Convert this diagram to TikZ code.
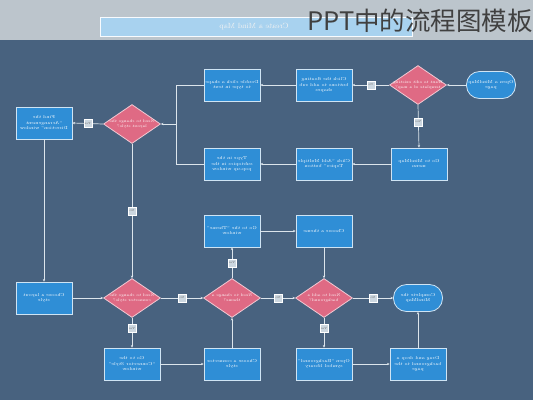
\documentclass[tikz,border=0pt]{standalone}
\usepackage{graphicx}
\usepackage{fontspec}
\newfontfamily\cjk{Noto Sans CJK SC}
\usetikzlibrary{shapes.geometric,arrows.meta}
\definecolor{bgmain}{HTML}{48627F}
\definecolor{bgtop}{HTML}{BCC5CC}
\definecolor{titleblue}{HTML}{A8D2EF}
\definecolor{boxblue}{HTML}{2F8ED6}
\definecolor{boxedge}{HTML}{CFE4F4}
\definecolor{dpink}{HTML}{DF6A84}
\definecolor{dedge}{HTML}{F2C9D3}
\definecolor{linec}{HTML}{DCE5EC}
\definecolor{lblfill}{HTML}{CCD7E0}
\newcommand{\mt}[1]{\reflectbox{\begin{tabular}{@{}c@{}}#1\end{tabular}}}
\tikzset{
  procbox/.style={rectangle, fill=boxblue, draw=boxedge, line width=0.8pt,
    minimum width=56pt, minimum height=32pt, inner sep=0pt, text=white,
    font=\fontsize{4.3}{5.6}\selectfont},
  decbox/.style={diamond, aspect=1.5, fill=dpink, draw=dedge, line width=0.8pt,
    minimum width=57pt, minimum height=39pt, inner xsep=-10pt, inner ysep=-4pt, text=white,
    font=\fontsize{3.9}{5}\selectfont},
  termbox/.style={rectangle, rounded corners=13pt, fill=boxblue, draw=boxedge, line width=0.8pt,
    minimum width=49pt, minimum height=27pt, inner sep=0pt, text=white,
    font=\fontsize{4.3}{5.6}\selectfont},
  lbl/.style={rectangle, fill=lblfill, draw=white, line width=0.5pt,
    minimum width=8pt, minimum height=8pt, inner sep=0pt, text=black!60,
    font=\fontsize{3}{3.5}\selectfont},
  conn/.style={draw=linec, line width=0.7pt},
  flow/.style={conn, -{Stealth[length=2.6pt,width=2.4pt]}}
}
\begin{document}
\begin{tikzpicture}[x=1pt,y=-1pt]
\useasboundingbox (0,0) rectangle (533,400);
\fill[bgmain] (0,0) rectangle (533,400);
\fill[bgtop] (0,0) rectangle (533,40);
% title bar
\node[rectangle, fill=titleblue, draw=white!92!titleblue, line width=1pt,
  minimum width=312pt, minimum height=19pt, inner sep=0pt] (bar) at (256,26.5) {};
\node[text=white!90!gray, font=\fontsize{7.5}{8}\selectfont] (bartext) at (254,27) {\mt{Create a Mind Map}};
\node[anchor=east, inner sep=0pt, text=black!75, font=\cjk\fontsize{25.5}{28}\selectfont] (cn) at (533,20.5) {PPT中的流程图模板};

% top row
\node[termbox] (start) at (491,85) {\mt{Open a MindMap\\page}};
\node[decbox] (d1) at (418,85) {\mt{Want to edit existing\\template of a map?}};
\node[procbox] (b1) at (324,85) {\mt{Click the floating\\buttons to add sub\\shapes}};
\node[procbox] (b2) at (232,85) {\mt{Double click a shape\\to type in text}};
% middle row
\node[procbox] (b3) at (419,164) {\mt{Go to MindMap\\menu}};
\node[procbox] (b4) at (324,164) {\mt{Click ``Add Multiple\\Topics'' button}};
\node[procbox] (b5) at (232,164) {\mt{Type in the\\subtopics in the\\pop-up window}};
% left
\node[decbox] (dl) at (132,124) {\mt{Need to change the\\layout style?}};
\node[procbox] (fa) at (44,123) {\mt{Find the\\``Arrangement\\Direction'' window}};
\coordinate (jn) at (176,124);
% bottom row
\node[procbox] (cl) at (44,298) {\mt{Choose a layout\\style}};
\node[decbox] (d2) at (132,298) {\mt{Need to change the\\connector style?}};
\node[decbox] (d3) at (232,298) {\mt{Need to change a\\theme?}};
\node[decbox] (d4) at (324,298) {\mt{Need to add a\\background?}};
\node[termbox] (done) at (418,298) {\mt{Complete the\\MindMap}};
\node[procbox] (th) at (232,231) {\mt{Go to the ``Theme''\\window}};
\node[procbox] (ct) at (324,231) {\mt{Choose a theme}};
\node[procbox] (cw) at (132,364) {\mt{Go to the\\``Connector Style''\\window}};
\node[procbox] (cc) at (232,364) {\mt{Choose a connector\\style}};
\node[procbox] (ob) at (324,364) {\mt{Open ``Background''\\symbol library}};
\node[procbox] (dd) at (418,364) {\mt{Drag and drop a\\background to the\\page}};

% connectors
\draw[flow] (start.west) -- (d1.east);
\draw[flow] (d1.west) -- node[lbl]{\mt{No}} (b1.east);
\draw[flow] (b1.west) -- (b2.east);
\draw[flow] (d1.south) -- node[lbl, pos=0.4]{\mt{Yes}} (b3.north);
\draw[flow] (b3.west) -- (b4.east);
\draw[flow] (b4.west) -- (b5.east);
\draw[conn] (b2.west) -| (jn);
\draw[conn] (b5.west) -| (jn);
\draw[flow] (jn) -- (dl.east);
\draw[flow] (dl.west) -- node[lbl]{\mt{Yes}} (fa.east);
\draw[flow] (dl.south) -- node[lbl]{\mt{No}} (d2.north);
\draw[flow] (fa.south) -- (cl.north);
\draw[flow] (cl.east) -- (d2.west);
\draw[flow] (d2.east) -- node[lbl]{\mt{No}} (d3.west);
\draw[flow] (d2.south) -- node[lbl, pos=0.35]{\mt{Yes}} (cw.north);
\draw[flow] (cw.east) -- (cc.west);
\draw[flow] (cc.north) -- (d3.south);
\draw[flow] (d3.north) -- node[lbl]{\mt{Yes}} (th.south);
\draw[flow] (th.east) -- (ct.west);
\draw[flow] (ct.south) -- (d4.north);
\draw[flow] (d3.east) -- node[lbl]{\mt{No}} (d4.west);
\draw[flow] (d4.east) -- node[lbl]{\mt{No}} (done.west);
\draw[flow] (d4.south) -- node[lbl, pos=0.35]{\mt{Yes}} (ob.north);
\draw[flow] (ob.east) -- (dd.west);
\draw[flow] (dd.north) -- (done.south);
\end{tikzpicture}
\end{document}
